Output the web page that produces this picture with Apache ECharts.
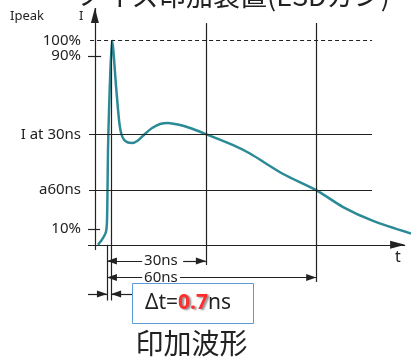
<!DOCTYPE html>
<html>
<head>
<meta charset="utf-8">
<script src="https://cdn.jsdelivr.net/npm/echarts@6/dist/echarts.min.js"></script>
<style>
html, body { margin: 0; padding: 0; background: #fff; }
#chart { width: 411px; height: 360px; }
</style>
</head>
<body>
<div id="chart"></div>
<script>
'use strict';

// 印加波形 (横: 時間, 縦: 電流 %)
var waveT = [0.9, 2.35, 3.2, 3.5, 3.66, 3.8, 4.1, 4.5, 5.0, 6.13, 7.0, 7.6, 8.5, 9.6, 10.8, 12.5, 14.5, 16.6, 18.9, 21.2, 24.1, 27.6, 32.2, 40.1, 45.1, 54.6, 64.2, 72.0, 80.7, 91.7];
var waveI = [0, 3.3, 6.3, 11.2, 26.8, 46.4, 66, 85.6, 100, 77.8, 61.1, 54.8, 51.3, 50.1, 49.9, 51.1, 54.3, 57.2, 59.2, 59.7, 58.9, 57.2, 54.2, 48.8, 44.6, 34.7, 26.8, 18.5, 11.7, 5.5];

// 縦軸の目盛り
var levelValues = [100, 92.4, 54.1, 26.8, 7.7];
var levelLabels = ['100%', '90%', 'I at 30ns', 'a60ns', '10%'];

// 基準の時刻 (立ち上がり, ピーク, 30ns, 60ns)
var markT = [3.5, 4.7, 32.2, 64.2];
var dimLabels = ['30ns', '60ns'];

var INK = '#222';
var FONT = 'Noto Sans';

// 線分ひとつ (markLine の1件)
function seg(x1, y1, x2, y2, s1, s2, extra) {
    var a = { coord: [x1, y1], symbol: s1 || 'none' };
    var b = { coord: [x2, y2], symbol: s2 || 'none' };
    if (s1 && s1 !== 'none') a.symbolOffset = [0, '50%'];
    if (s2 && s2 !== 'none') b.symbolOffset = [0, '50%'];
    if (extra) {
        for (var k in extra) a[k] = extra[k];
    }
    return [a, b];
}

var axisArrow = { symbolSize: [8, 15] };
var dimLabel = function (txt) {
    return {
        label: { show: true, position: 'end', distance: 2, formatter: txt, color: INK, fontSize: 15, fontFamily: FONT }
    };
};

var lines = [
    // 水平線
    seg(-1.4, levelValues[0], 80.4, levelValues[0], null, null, { lineStyle: { type: [4, 3] } }),
    seg(-1.7, levelValues[2], 80.4, levelValues[2]),
    seg(-1.7, levelValues[3], 80.4, levelValues[3]),
    seg(-2, levelValues[1], 1.8, levelValues[1]),
    seg(-2, levelValues[4], 1.5, levelValues[4]),
    // 縦線
    seg(markT[0], 0, markT[0], -27.3),
    seg(markT[1], 100, markT[1], -27.3),
    seg(markT[2], 108.6, markT[2], -9.9),
    seg(markT[3], 108.6, markT[3], -18.2),
    // 寸法線
    seg(markT[0], -7.9, 13.7, -7.9, 'triangle', 'none', dimLabel(dimLabels[0])),
    seg(25.6, -7.9, markT[2], -7.9, 'none', 'triangle'),
    seg(markT[0], -16, 13.7, -16, 'triangle', 'none', dimLabel(dimLabels[1])),
    seg(24.7, -16, markT[3], -16, 'none', 'triangle'),
    seg(-2, -24.1, markT[0], -24.1, 'none', 'triangle'),
    seg(10.8, -24.1, markT[1], -24.1, 'none', 'triangle')
];

// 軸 (矢印付き)
var xAxisLine = seg(-2, 0, 90, 0, 'none', 'triangle');
xAxisLine[1].symbolSize = axisArrow.symbolSize;
var yAxisLine = seg(0, -2.5, 0, 116, 'none', 'triangle');
yAxisLine[1].symbolSize = axisArrow.symbolSize;
lines.push(xAxisLine, yAxisLine);

var chart = echarts.init(document.getElementById('chart'));

var titleText = function (text, left, top, size, family) {
    return {
        text: text, left: left, top: top, padding: 0,
        textStyle: { fontFamily: family || FONT, fontSize: size, fontWeight: 'normal', color: INK }
    };
};

chart.setOption({
    animation: false,
    backgroundColor: '#fff',
    title: [
        titleText('ノイズ印加装置(ESDガン)', 78, -17.5, 27, 'Noto Sans CJK JP'),
        titleText('Ipeak', 10, 10, 13),
        titleText('I', 79, 10, 13),
        titleText('t', 395, 249, 16),
        {
            text: '{a|Δt=}{b|0.7}{a|ns}',
            left: 132, top: 283,
            padding: [10, 23, 10, 13],
            borderColor: '#5b9bd5', borderWidth: 1,
            backgroundColor: '#fff',
            textStyle: {
                fontWeight: 'normal',
                rich: {
                    a: { fontFamily: FONT, fontSize: 21, lineHeight: 21, fontWeight: 'normal', color: INK },
                    b: {
                        fontFamily: FONT, fontSize: 21, lineHeight: 21, fontWeight: 'bold', color: '#ff2d2d',
                        textShadowColor: 'rgba(0,0,0,0.45)', textShadowBlur: 2, textShadowOffsetX: 2, textShadowOffsetY: 1
                    }
                }
            }
        },
        titleText('印加波形', 135.5, 329.5, 28, 'Noto Sans CJK JP')
    ],
    grid: { left: 88, right: 0, top: 8, bottom: 58, outerBoundsMode: 'none' },
    xAxis: {
        type: 'value', min: -2, max: 91.7, show: false
    },
    yAxis: {
        type: 'value', min: -28, max: 116,
        axisLine: { show: false },
        axisTick: { show: false },
        splitLine: { show: false },
        axisLabel: {
            customValues: levelValues,
            margin: 7,
            color: INK, fontSize: 15, fontFamily: FONT,
            formatter: function (v) {
                var i = levelValues.indexOf(v);
                return i >= 0 ? levelLabels[i] : '';
            }
        }
    },
    series: [{
        type: 'line',
        data: waveT.map(function (t, i) { return [t, waveI[i]]; }),
        showSymbol: false,
        smooth: 0.25,
        lineStyle: { color: '#2b8a95', width: 2.5 },
        silent: true,
        z: 3,
        markLine: {
            silent: true,
            symbol: ['none', 'none'],
            symbolSize: [7, 10],
            label: { show: false },
            emphasis: { disabled: true },
            lineStyle: { color: INK, width: 1.2, type: 'solid' },
            data: lines
        }
    }]
});
</script>
</body>
</html>
